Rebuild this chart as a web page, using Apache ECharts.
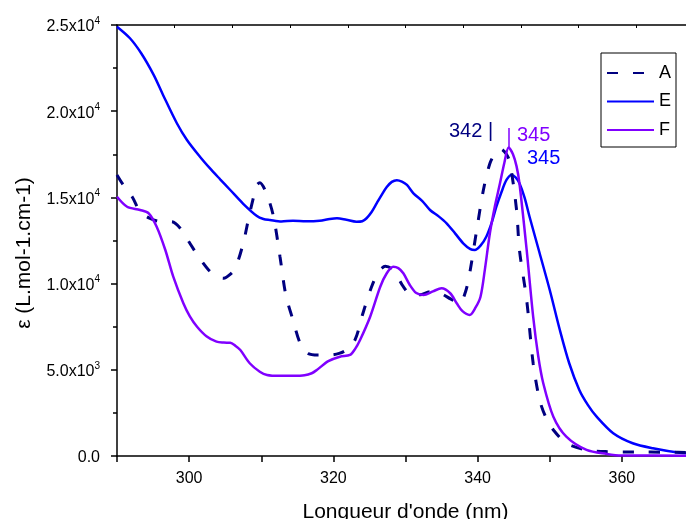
<!DOCTYPE html>
<html>
<head>
<meta charset="utf-8">
<script src="https://cdn.jsdelivr.net/npm/echarts@6/dist/echarts.min.js"></script>
<style>
html,body{margin:0;padding:0;background:#fff;}
#chart{width:686px;height:519px;}
</style>
</head>
<body>
<div id="chart"></div>
<script>
// ---- data ----
const seriesNames = ['A', 'E', 'F'];

const xA = [290.0,290.9,292.1,293.2,294.5,296.0,297.6,298.8,300.1,301.4,302.7,303.8,304.8,305.6,306.4,307.5,308.4,309.4,309.8,310.8,311.7,312.6,313.4,314.4,315.4,316.5,317.9,319.5,320.8,321.8,323.0,324.1,325.3,326.3,327.2,328.3,329.7,330.8,332.0,333.4,334.8,336.3,337.5,338.3,338.9,339.8,340.8,341.7,342.5,343.2,344.0,344.5,345.4,345.8,346.8,347.7,348.6,349.5,350.5,352.3,355.1,358.0,362.0,366.0,370.0];
const yA = [16300,15700,15040,14170,13800,13600,13590,13200,12340,11500,10790,10400,10310,10500,10890,12340,14080,15720,15850,15140,13880,11560,9350,7890,6540,5950,5860,5860,5950,6150,6730,8280,9820,10700,11000,10790,9820,9340,9350,9530,9440,9100,8860,9500,10600,12920,15430,16970,17600,17800,17500,16970,14270,11950,9050,5380,3250,2200,1510,740,350,250,230,220,200];

const xE = [290.0,291.8,293.4,295.1,296.4,298.3,299.7,301.5,302.9,304.3,305.7,307.5,309.4,310.3,311.2,312.8,314.4,316.2,318.1,319.5,320.5,321.8,323.2,324.0,324.6,325.3,326.0,326.7,327.4,328.1,328.8,329.5,330.2,331.1,332.3,333.4,334.6,335.7,336.9,338.0,339.0,339.6,340.4,341.2,342.0,342.6,343.3,344.0,344.7,345.3,345.8,346.5,347.2,348.6,350.0,351.4,352.7,354.1,355.3,356.5,358.8,361.5,364.3,368.0,370.0];
const yE = [24900,24230,23330,22090,20930,19300,18330,17360,16680,16050,15430,14630,13920,13750,13690,13600,13650,13620,13650,13750,13790,13700,13590,13620,13790,14150,14650,15150,15600,15900,16000,15920,15720,15240,14800,14270,13900,13500,12900,12340,12000,11950,12200,12720,13600,14460,15300,16010,16300,16150,15820,15000,13880,11760,9630,7310,5380,3830,2950,2280,1320,740,450,190,150];

const xF = [290.0,291.4,293.2,294.4,295.5,296.7,297.8,299.2,300.1,301.1,302.4,303.8,304.8,305.7,306.4,307.1,308.4,309.8,310.8,312.5,314.5,316.0,317.0,317.7,319.3,320.9,322.3,323.0,323.7,325.1,326.5,327.4,328.3,329.0,329.7,330.6,331.5,332.5,333.8,335.0,336.2,337.1,337.9,338.9,339.7,340.4,341.0,341.7,342.4,343.1,343.7,344.3,344.9,345.4,345.8,346.8,347.7,348.4,349.1,350.5,352.3,355.1,357.9,360.0,370.0];
const yF = [15040,14460,14270,14080,13300,11950,10400,8860,8100,7500,6950,6630,6580,6570,6400,6150,5380,4890,4700,4650,4650,4680,4800,4990,5500,5760,5860,6200,6730,8080,9820,10600,10980,10900,10600,9920,9450,9340,9550,9730,9440,8860,8400,8180,8600,9240,10800,12920,14500,15820,17000,17900,17500,16800,15820,11950,8080,5800,4220,2280,1120,350,120,30,20];

const xTickValues = [300, 320, 340, 360];
const yTickLabels = {0: ['0.0', ''], 5000: ['5.0x10', '3'], 10000: ['1.0x10', '4'], 15000: ['1.5x10', '4'], 20000: ['2.0x10', '4'], 25000: ['2.5x10', '4']};
const peakLabels = ['342 |', '345', '345'];

const colA = '#000080', colE = '#0000FF', colF = '#8000FF';
const FONT = '"Liberation Sans", Arial, sans-serif';

function pairs(xs, ys) { return xs.map((x, i) => [x, ys[i]]); }

const chart = echarts.init(document.getElementById('chart'), null, {renderer: 'canvas'});
const option = {
  backgroundColor: '#fff',
  animation: false,
  textStyle: {fontFamily: FONT},
  grid: {left: 117, right: -8, top: 25, bottom: 63, containLabel: false, outerBoundsMode: 'none'},
  xAxis: [{
    type: 'value', min: 290, max: 370, interval: 10,
    position: 'bottom',
    axisLine: {show: true, onZero: false, lineStyle: {color: '#000', width: 1.5}},
    axisTick: {show: true, inside: false, length: 6, lineStyle: {color: '#000', width: 1.5}},
    axisLabel: {show: true, margin: 14.5, fontSize: 16, color: '#000', fontFamily: FONT,
      formatter: v => xTickValues.indexOf(v) >= 0 ? String(v) : ''},
    splitLine: {show: false},
    name: "Longueur d'onde (nm)", nameLocation: 'middle', nameGap: 46,
    nameTextStyle: {fontSize: 21, color: '#000', fontFamily: FONT}
  }, {
    type: 'value', min: 0, max: 10, interval: 1, position: 'top',
    axisLine: {show: true, onZero: false, lineStyle: {color: '#000', width: 1.5}},
    axisTick: {show: true, inside: true, length: 3, lineStyle: {color: '#000', width: 1}},
    axisLabel: {show: false}, splitLine: {show: false}
  }],
  yAxis: {
    type: 'value', min: 0, max: 25000, interval: 5000,
    axisLine: {show: true, onZero: false, lineStyle: {color: '#000', width: 1.5}},
    axisTick: {show: true, inside: false, length: 6, lineStyle: {color: '#000', width: 1.5}},
    minorTick: {show: true, splitNumber: 2, length: 4, lineStyle: {color: '#000', width: 1.5}},
    splitLine: {show: false}, minorSplitLine: {show: false},
    axisLabel: {
      margin: 17, fontSize: 16, color: '#000', fontFamily: FONT, lineHeight: 22, padding: [4, 0, 0, 0],
      formatter: v => { const t = yTickLabels[v]; if (!t) return ''; return t[1] ? t[0] + '{sup|' + t[1] + '}' : t[0]; },
      rich: {sup: {fontSize: 10, color: '#000', fontFamily: FONT, verticalAlign: 'top', lineHeight: 10}}
    }
  },
  legend: {
    show: true, orient: 'vertical', left: 601, top: 53,
    data: seriesNames,
    borderColor: '#000', borderWidth: 1, padding: [11, 5, 8, 5],
    itemWidth: 47, itemHeight: 14, itemGap: 10.5,
    itemStyle: {color: 'rgba(0,0,0,0)', borderColor: 'rgba(0,0,0,0)', borderWidth: 0},
    textStyle: {fontSize: 18, color: '#000', fontFamily: FONT},
    backgroundColor: '#fff'
  },
  series: [
    {name: 'A', type: 'line', data: pairs(xA, yA), showSymbol: false, symbol: 'none', smooth: 0.3,
      lineStyle: {color: colA, width: 3, type: [11, 15]}, itemStyle: {color: colA}, z: 3},
    {name: 'E', type: 'line', data: pairs(xE, yE), showSymbol: false, symbol: 'none', smooth: 0.3,
      lineStyle: {color: colE, width: 2.5}, itemStyle: {color: colE}, z: 2},
    {name: 'F', type: 'line', data: pairs(xF, yF), showSymbol: false, symbol: 'none', smooth: 0.3,
      lineStyle: {color: colF, width: 2.5}, itemStyle: {color: colF}, z: 4}
  ],
  graphic: [
    {type: 'text', x: 24, y: 253, rotation: Math.PI / 2,
      style: {text: 'ε (L.mol-1.cm-1)', font: '21px ' + FONT, fill: '#000', align: 'center', verticalAlign: 'middle', textAlign: 'center', textVerticalAlign: 'middle'}},
    {type: 'text', x: 449, y: 131,
      style: {text: peakLabels[0], font: '20px ' + FONT, fill: colA, align: 'left', verticalAlign: 'middle', textAlign: 'left', textVerticalAlign: 'middle'}},
    {type: 'text', x: 517, y: 135.5,
      style: {text: peakLabels[1], font: '20px ' + FONT, fill: colF, align: 'left', verticalAlign: 'middle', textAlign: 'left', textVerticalAlign: 'middle'}},
    {type: 'text', x: 527, y: 158,
      style: {text: peakLabels[2], font: '20px ' + FONT, fill: colE, align: 'left', verticalAlign: 'middle', textAlign: 'left', textVerticalAlign: 'middle'}},
    {type: 'line', shape: {x1: 509, y1: 128, x2: 509, y2: 147}, style: {stroke: colF, lineWidth: 1.5}}
  ]
};
chart.setOption(option);
</script>
</body>
</html>
